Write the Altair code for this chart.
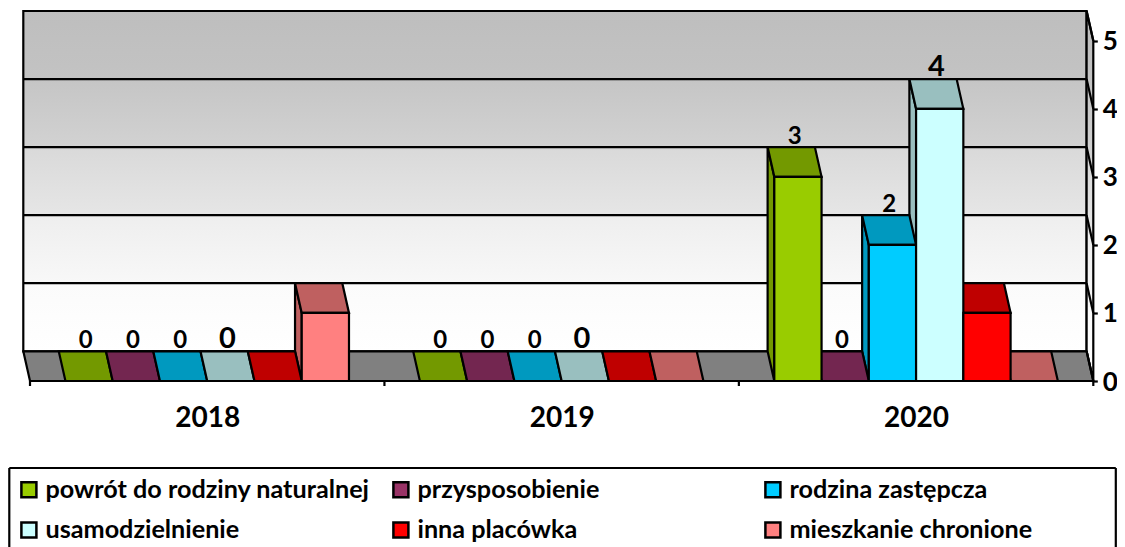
import json
import altair as alt
import pandas as pd

years = ["2018", "2019", "2020"]
series = ["powrót do rodziny naturalnej", "przysposobienie", "rodzina zastępcza",
          "usamodzielnienie", "inna placówka", "mieszkanie chronione"]
front_colors = ["#99CC00", "#993366", "#00CCFF", "#CCFFFF", "#FF0000", "#FF8080"]
shade_colors = ["#739900", "#732650", "#0099BF", "#99BFBF", "#BF0000", "#BF6060"]
values_2018 = [0, 0, 0, 0, 0, 1]
values_2019 = [0, 0, 0, 0, 0, 0]
values_2020 = [3, 0, 2, 4, 1, 0]
labelled_2018 = [True, True, True, True, False, False]
labelled_2019 = [True, True, True, True, False, False]
labelled_2020 = [True, True, True, True, False, False]
label_sizes = [24, 24, 24, 29, 24, 24]
wall_stops = [("#BEBEBE", 0), ("#C3C3C3", 0.2), ("#C5C5C5", 0.2), ("#D2D2D2", 0.4), ("#D9D9D9", 0.4),
              ("#E6E6E6", 0.6), ("#EEEEEE", 0.6), ("#F8F8F8", 0.8), ("#FBFBFB", 0.8), ("#FFFFFF", 1)]
y_ticks = [0, 1, 2, 3, 4, 5]
floor_color = "#808080"

DX = 6.7 / 354.33
DY = 29.7 / 68
BAR = 1 / 7.5
GAP = 0.75 * BAR
SW = 2.2
FONT = "Lato"
WEIGHT = "bold"

all_values = [values_2018, values_2019, values_2020]
all_flags = [labelled_2018, labelled_2019, labelled_2020]

fronts, sides, tops, labels = [], [], [], []
for yi, (vals, flags) in enumerate(zip(all_values, all_flags)):
    for si, v in enumerate(vals):
        x0 = yi + GAP + si * BAR
        x1 = x0 + BAR
        fronts.append(dict(series=series[si], x0=x0, x1=x1, v=v, base=0))
        pid = f"{yi}-{si}"
        if v > 0:
            sides.append(dict(pid=pid, c=shade_colors[si], x=x0 - DX, lo=DY, hi=v + DY))
            sides.append(dict(pid=pid, c=shade_colors[si], x=x0, lo=0, hi=v))
        tops.append(dict(pid=pid, c=shade_colors[si], y=v + DY, a=x0 - DX, b=x1 - DX))
        tops.append(dict(pid=pid, c=shade_colors[si], y=v, a=x0, b=x1))
        if flags[si]:
            labels.append(dict(x=(x0 + x1 - DX) / 2, y=v + DY, t=str(v), s=label_sizes[si]))

XMIN, XMAX = -DX, len(years)
YMAX = 5 + DY
xs = alt.Scale(domain=[XMIN, XMAX], nice=False, zero=False)
ys = alt.Scale(domain=[0, YMAX], nice=False, zero=False)
labelexpr = json.dumps(years) + "[floor(datum.value)]"
gradient = alt.Gradient(gradient="linear", x1=0, x2=0, y1=0, y2=1,
                        stops=[alt.GradientStop(color=c, offset=o) for c, o in wall_stops])

x_axis = alt.Axis(
    values=[i + 0.5 for i in range(len(years))], labelExpr=labelexpr, ticks=False, domain=False,
    grid=False, labelFont=FONT, labelFontWeight=WEIGHT, labelFontSize=28, labelColor="black",
    labelPadding=23, labelFlush=False, labelOverlap=False, labelAngle=0, title=None)
y_axis = alt.Axis(
    orient="right", values=y_ticks, format="d", domain=False, grid=False, tickSize=4, tickWidth=SW,
    tickColor="black", labelFont=FONT, labelFontWeight=WEIGHT, labelFontSize=26, labelColor="black",
    labelPadding=5, labelOffset=1, title=None)


def X(f):
    return alt.X(f, scale=xs, axis=x_axis, title=None)


def Y(f):
    return alt.Y(f, scale=ys, axis=y_axis, title=None)


wall = alt.Chart(pd.DataFrame([dict(a=XMIN, b=XMAX - DX, lo=DY, hi=YMAX)])).mark_rect(
    color=gradient, stroke="black", strokeWidth=SW).encode(
    x=X("a:Q"), x2="b:Q", y=Y("lo:Q"), y2="hi:Q")

side_wall = alt.Chart(pd.DataFrame([dict(x=XMAX - DX, lo=DY, hi=YMAX), dict(x=XMAX, lo=0, hi=5)])).mark_area(
    color=gradient, stroke="black", strokeWidth=SW, orient="vertical").encode(
    x=X("x:Q"), y=alt.Y("lo:Q", scale=ys, axis=y_axis, title=None, stack=None), y2="hi:Q")

floor = alt.Chart(pd.DataFrame([dict(y=DY, a=XMIN, b=XMAX - DX), dict(y=0, a=0, b=XMAX)])).mark_area(
    color=floor_color, stroke="black", strokeWidth=SW, orient="horizontal").encode(
    y=Y("y:Q"), x=alt.X("a:Q", scale=xs, axis=x_axis, title=None, stack=None), x2="b:Q")

grid = alt.Chart(pd.DataFrame([dict(y=v + DY, a=XMIN, b=XMAX - DX) for v in y_ticks[1:]])).mark_rule(
    color="black", strokeWidth=SW).encode(x=X("a:Q"), x2="b:Q", y=Y("y:Q"))

diag = alt.Chart(pd.DataFrame([dict(a=XMAX - DX, b=XMAX, p=v + DY, q=v) for v in y_ticks])).mark_rule(
    color="black", strokeWidth=SW).encode(x=X("a:Q"), x2="b:Q", y=Y("p:Q"), y2="q:Q")

side_layer = alt.Chart(pd.DataFrame(sides)).mark_area(
    stroke="black", strokeWidth=SW, orient="vertical", opacity=1).encode(
    x=X("x:Q"), y=alt.Y("lo:Q", scale=ys, axis=y_axis, title=None, stack=None), y2="hi:Q",
    color=alt.Color("c:N", scale=None), detail="pid:N")

top_layer = alt.Chart(pd.DataFrame(tops)).mark_area(
    stroke="black", strokeWidth=SW, orient="horizontal", opacity=1).encode(
    y=Y("y:Q"), x=alt.X("a:Q", scale=xs, axis=x_axis, title=None, stack=None), x2="b:Q",
    color=alt.Color("c:N", scale=None), detail="pid:N")

front_layer = alt.Chart(pd.DataFrame(fronts)).mark_rect(stroke="black", strokeWidth=SW).encode(
    x=X("x0:Q"), x2="x1:Q", y=Y("v:Q"), y2="base:Q",
    color=alt.Color("series:N", scale=alt.Scale(domain=series, range=front_colors), legend=alt.Legend(
        title=None, orient="none", direction="horizontal", columns=3, gridAlign="all",
        legendX=-7, legendY=466, symbolType="square", symbolSize=225, symbolStrokeColor="black",
        symbolStrokeWidth=2.5, symbolOpacity=1, labelFont=FONT, labelFontWeight=WEIGHT, labelFontSize=25.2,
        labelColor="black", labelOffset=4, columnPadding=18, rowPadding=14.5, labelLimit=500, padding=0)))

base = alt.Chart(pd.DataFrame([dict(a=0, b=XMAX, y=0)])).mark_rule(color="black", strokeWidth=SW).encode(
    x=X("a:Q"), x2="b:Q", y=Y("y:Q"))

ticks = alt.Chart(pd.DataFrame(dict(x=list(range(len(years) + 1))))).mark_rule(color="black", strokeWidth=SW).encode(
    x=X("x:Q"), y=alt.value(370), y2=alt.value(375))

text = alt.Chart(pd.DataFrame(labels)).mark_text(
    font=FONT, fontWeight=WEIGHT, color="black", baseline="alphabetic", dy=-3).encode(
    x=X("x:Q"), y=Y("y:Q"), text="t:N", size=alt.Size("s:Q", scale=None))

frame_top = alt.Chart(pd.DataFrame(dict(k=[0]))).mark_rule(color="black", strokeWidth=SW).encode(
    x=alt.value(-14), x2=alt.value(1092.5), y=alt.value(457))
frame_left = alt.Chart(pd.DataFrame(dict(k=[0]))).mark_rule(color="black", strokeWidth=SW).encode(
    x=alt.value(-14), y=alt.value(457), y2=alt.value(545))
frame_right = alt.Chart(pd.DataFrame(dict(k=[0]))).mark_rule(color="black", strokeWidth=SW).encode(
    x=alt.value(1092.5), y=alt.value(457), y2=alt.value(545))

chart = alt.layer(wall, side_wall, floor, grid, diag, side_layer, top_layer, front_layer, base, ticks, text,
                  frame_top, frame_left, frame_right).properties(
    width=1070, height=370, autosize=alt.AutoSizeParams(type="none"),
    padding={"left": 15.3, "top": 3, "right": 23.7, "bottom": 166}, background="white"
).configure_view(stroke=None)

chart.save("out.html", embed_options={"renderer": "svg", "actions": False})
